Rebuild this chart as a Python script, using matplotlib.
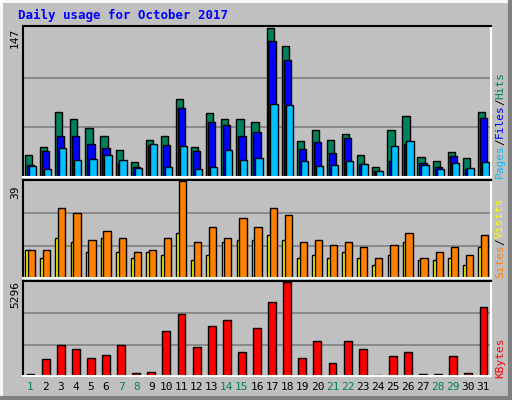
import matplotlib
matplotlib.use("Agg")
import matplotlib.pyplot as plt
import numpy as np

days = list(range(1, 32))
hits = [22,30,64,57,48,40,27,15,37,40,77,30,63,57,57,54,147,129,36,46,37,42,22,10,46,60,20,16,25,19,64]
files = [12,26,40,40,33,29,14,10,32,32,68,26,54,51,40,44,134,115,28,35,24,38,13,6,16,33,14,10,21,8,58]
pages = [11,8,29,17,18,22,17,9,33,10,31,8,10,27,17,19,72,71,16,11,12,16,13,6,31,36,12,8,14,9,15]
sites = [11.1,8.2,16.2,14.5,10.3,16.2,10.3,8.2,10.3,9.4,18.3,7.3,9.4,14.5,15.3,15.3,17.5,15.3,8.2,9.4,8.2,10.3,8.2,5.2,9.4,14.5,7.3,7.3,8.2,5.2,12.4]
visits = [11.1,11.1,28.4,26.3,15.3,19.1,16.2,10.3,11.1,16.2,39,14.5,20.4,16.2,24.2,20.4,28.4,25.2,14.5,15.3,13.2,14.5,12.4,8.2,13.2,18.3,8.2,10.3,12.4,9.4,17.5]
kbytes = [135,947,1759,1527,1005,1179,1759,193,251,2513,3499,1643,2803,3151,1353,2687,4195,5296,1005,1991,715,1991,1527,58,1121,1353,135,135,1121,193,3905]
weekend = {1,7,8,14,15,21,22,28,29}

W, H = 512, 400
fig = plt.figure(figsize=(W/100, H/100), dpi=100)
fig.patch.set_facecolor('#c0c0c0')
mono = 'DejaVu Sans Mono'

def ax_at(x0, y0, x1, y1):
    ax = fig.add_axes([x0/W, 1-y1/H, (x1-x0)/W, (y1-y0)/H])
    ax.set_facecolor('#c0c0c0')
    ax.set_xlim(0.5, 31.5)
    for s in ['left', 'top']:
        ax.spines[s].set_color('black'); ax.spines[s].set_linewidth(1.5)
    for s in ['right', 'bottom']:
        ax.spines[s].set_color('white'); ax.spines[s].set_linewidth(1.5)
    ax.set_xticks([]); ax.set_yticks([])
    return ax

x = np.array(days)
ax1 = ax_at(23, 26, 491, 177)
ax1.set_ylim(0, 149)
for g in (49, 98):
    ax1.axhline(g, color='#808080', lw=1.2, zorder=0)
kw = dict(edgecolor='black', linewidth=1, zorder=2)
ax1.bar(x-0.13, hits, 0.48, color='#00805c', **kw)
ax1.bar(x, files, 0.48, color='#0000ff', **kw)
ax1.bar(x+0.13, pages, 0.48, color='#00c0ff', **kw)

ax2 = ax_at(23, 180, 491, 278)
ax2.set_ylim(0, 39.5)
for g in (13, 26):
    ax2.axhline(g, color='#808080', lw=1.2, zorder=0)
ax2.bar(x-0.2, sites, 0.3, color='#ffff00', **kw)
ax2.bar(x+0.07, visits, 0.48, color='#ff8000', **kw)

ax3 = ax_at(23, 281, 491, 376)
ax3.set_ylim(0, 5350)
for g in (1765, 3530):
    ax3.axhline(g, color='#808080', lw=1.2, zorder=0)
ax3.bar(x, kbytes, 0.52, color='#ff0000', **kw)

for d in days:
    ax3.text(d, -0.06, str(d), transform=ax3.get_xaxis_transform(), ha='center', va='top',
             fontsize=8, family=mono, color='#00805c' if d in weekend else 'black')

fig.text(18/W, 1-15/H, 'Daily usage for October 2017', fontsize=9, family=mono,
         fontweight='bold', color='#0000ff', va='center')

fig.text(15/W, 1-38/H, '147', rotation=90, fontsize=8, family=mono, ha='center', va='center')
fig.text(15/W, 1-192/H, '39', rotation=90, fontsize=8, family=mono, ha='center', va='center')
fig.text(15/W, 1-295/H, '5296', rotation=90, fontsize=8, family=mono, ha='center', va='center')

def vlabel(parts, xc, ybottom):
    y = ybottom
    for txt, col in parts:
        t = fig.text(xc/W, y/H, txt, rotation=90, fontsize=8, family=mono, color=col,
                     ha='center', va='bottom')
        y += len(txt) * 6.6
vlabel([('Pages', '#00c0ff'), ('/', 'black'), ('Files', '#0000ff'), ('/', 'black'), ('Hits', '#00805c')], 500, H-178)
vlabel([('Sites', '#ff8000'), ('/', 'black'), ('Visits', '#ffff00')], 500, H-278)
vlabel([('KBytes', '#ff0000')], 500, H-378)

# bevel
fig.add_artist(plt.Line2D([0.002, 0.002], [0, 1], color='white', lw=2, transform=fig.transFigure))
fig.add_artist(plt.Line2D([0, 1], [0.998, 0.998], color='white', lw=2, transform=fig.transFigure))
fig.add_artist(plt.Line2D([0.997, 0.997], [0, 1], color='#808080', lw=3, transform=fig.transFigure))
fig.add_artist(plt.Line2D([0, 1], [0.004, 0.004], color='#808080', lw=3, transform=fig.transFigure))

fig.savefig('out.png', dpi=100, facecolor=fig.get_facecolor())
